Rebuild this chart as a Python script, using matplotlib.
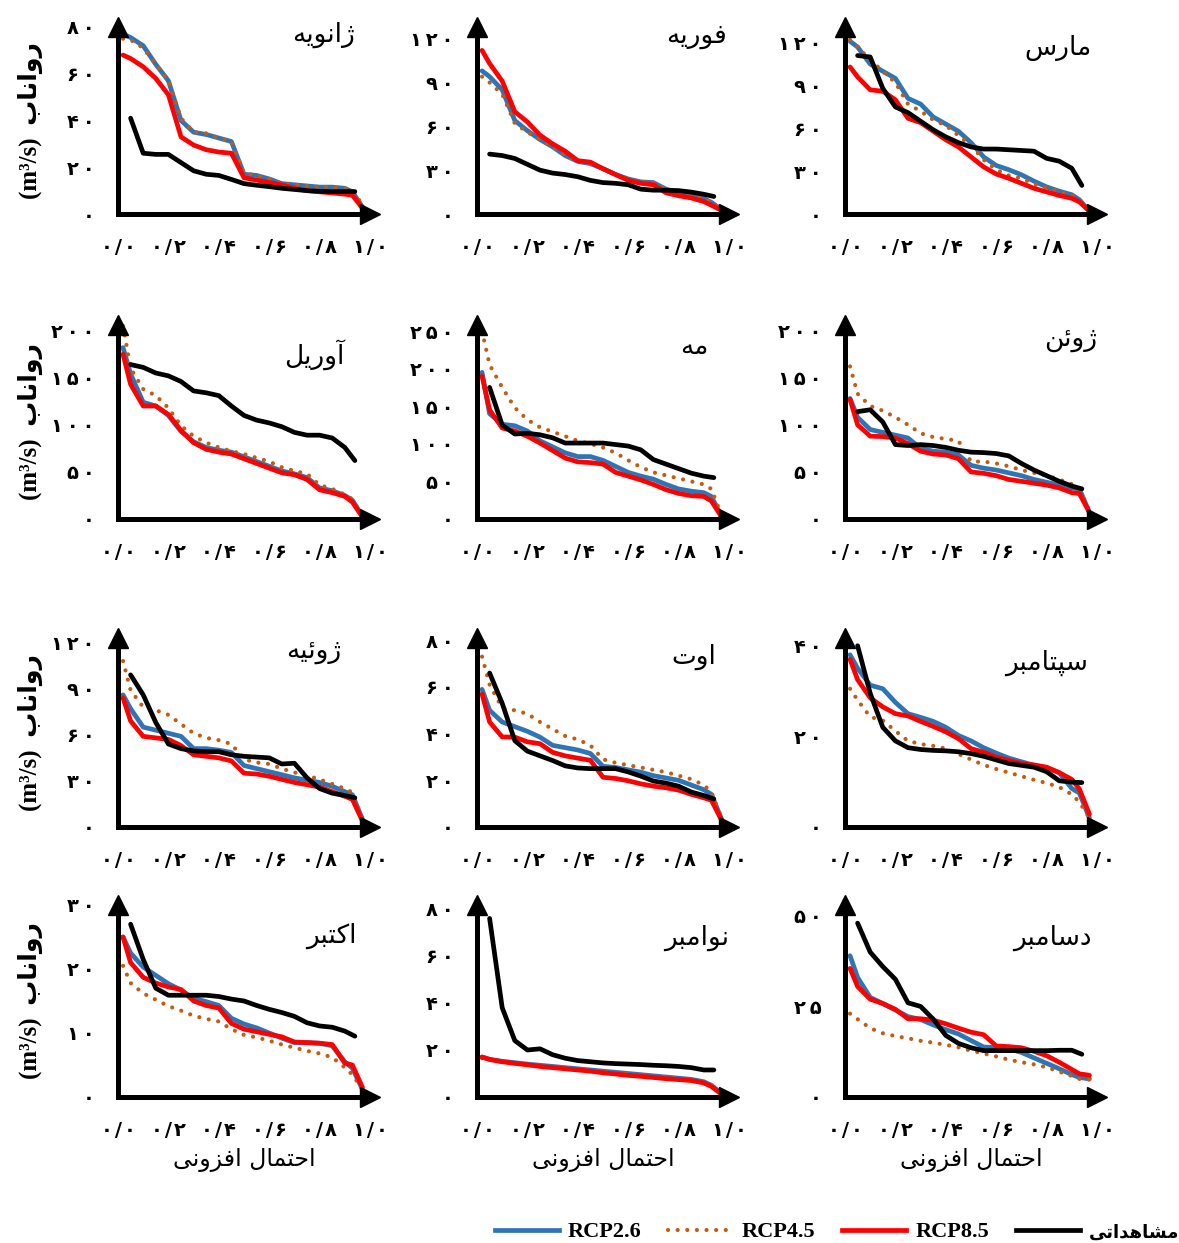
import matplotlib
matplotlib.use('Agg')
import matplotlib.pyplot as plt
from matplotlib.lines import Line2D

# --- 1. Data (flow duration curves) ---
# exceedance probability grid for the model runs and for the observed record
X_MODEL = [0.02, 0.05, 0.10, 0.15, 0.20, 0.25, 0.30, 0.35, 0.40, 0.45, 0.50,
           0.55, 0.60, 0.65, 0.70, 0.75, 0.80, 0.85, 0.90, 0.93, 0.97]
X_OBS = [0.05, 0.10, 0.15, 0.20, 0.25, 0.30, 0.35, 0.40, 0.45, 0.50,
         0.55, 0.60, 0.65, 0.70, 0.75, 0.80, 0.85, 0.90, 0.94]

MONTHS = ['ژانویه', 'فوریه', 'مارس', 'آوریل', 'مه', 'ژوئن',
          'ژوئیه', 'اوت', 'سپتامبر', 'اکتبر', 'نوامبر', 'دسامبر']

JAN_RCP26 = [77, 75.5, 72, 64, 57, 40, 35, 34, 32.5, 31, 17, 16.5, 15, 13, 12.5, 12, 11.5, 11.5, 11, 9.5, 3]
JAN_RCP45 = [75, 74.5, 71, 64, 57, 41, 35, 34.5, 32.5, 31, 17.5, 16.5, 15, 13, 12.5, 12, 11.5, 11.5, 11, 10, 4]
JAN_RCP85 = [68, 66.5, 63, 58, 51, 33, 29.5, 27.5, 26.5, 26, 15.5, 14.5, 13.5, 12.5, 11, 10, 9.5, 9, 8.5, 8, 2.5]
JAN_OBS = [41, 26, 25.5, 25.5, 22, 18.5, 17, 16.5, 14.8, 13, 12.3, 11.7, 11, 10.5, 10, 9.7, 9.6, 9.6, 9.6]

FEB_RCP26 = [98, 94, 85, 64, 57, 51, 46, 40, 36, 34.5, 31, 27, 24, 22, 21.5, 17, 14.5, 12.5, 10.5, 8, 3]
FEB_RCP45 = [94, 90, 82, 62, 56, 51, 46, 40, 36, 34.5, 31, 27, 24, 22, 21.5, 17, 14.5, 12.5, 10.5, 8, 3]
FEB_RCP85 = [112, 103, 91, 70, 63, 54, 48, 43, 36.5, 35.5, 31, 27, 23, 21, 20, 14.5, 12.5, 11, 8.5, 6, 2.5]
FEB_OBS = [41, 40, 38, 34, 30, 28, 27, 25.5, 23, 21.5, 21, 20, 17, 16.3, 16.3, 16, 15, 13.5, 12]

MAR_RCP26 = [121, 117, 105, 100, 95, 81, 77, 68, 63, 58, 50, 40, 34, 31, 27.5, 23, 19, 16, 13.5, 10, 2]
MAR_RCP45 = [122, 117, 108, 100, 92, 77, 72, 66, 62, 55, 48, 38, 31, 27, 25, 21, 18.5, 15.5, 13, 10, 2]
MAR_RCP85 = [103, 96, 87, 86, 80, 67, 64, 58, 52, 47, 40, 33, 28, 25, 21.5, 18, 15.5, 13, 11, 8.5, 2]
MAR_OBS = [111, 110, 88, 75, 71, 65, 59, 54, 50, 47, 45.5, 45.5, 45, 44.5, 44, 39, 37, 32, 20]

APR_RCP26 = [182, 154, 124, 120, 110, 93, 82, 76, 73, 71, 66, 61, 56, 51, 48, 44, 33, 30, 25, 20, 3]
APR_RCP45 = [205, 160, 138, 131, 118, 99, 88, 81, 76, 72, 69, 65, 61, 55, 51, 48, 36, 32, 26, 21, 3]
APR_RCP85 = [175, 143, 120, 120, 111, 94, 81, 74, 71, 69, 64, 59, 54, 49, 47, 42, 31, 28, 24, 18, 2]
APR_OBS = [164, 161, 155, 152, 146, 136, 134, 131, 120, 110, 105, 102, 98, 92, 89, 89, 86, 76, 62]

MAY_RCP26 = [195, 140, 126, 124, 117, 104, 96, 88, 83, 83, 78, 70, 62, 57, 53, 46, 40, 37, 35, 30, 4]
MAY_RCP45 = [250, 205, 175, 148, 132, 122, 116, 110, 104, 100, 95, 88, 78, 69, 62, 58, 54, 50, 46, 40, 5]
MAY_RCP85 = [190, 145, 121, 117, 110, 101, 91, 81, 76, 75, 73, 62, 57, 52, 46, 39, 34, 31, 30, 24, 3]
MAY_OBS = [175, 125, 113, 114, 112, 108, 101, 101, 101, 101, 99, 97, 92, 79, 73, 67, 61, 57, 55]

JUN_RCP26 = [128, 108, 95, 92, 89, 86, 75, 72, 71, 68, 57, 54, 52, 49, 46, 42, 39, 36, 33, 32, 7]
JUN_RCP45 = [162, 133, 120, 115, 108, 100, 91, 87, 85, 83, 61, 61, 59, 56, 52, 49, 46, 42, 37, 31, 9]
JUN_RCP85 = [127, 100, 88, 87.5, 86, 80, 72, 69, 68, 64, 50, 48.5, 46, 42, 40, 38, 36, 33, 28, 27, 7]
JUN_OBS = [114, 116, 103, 79, 78, 79, 78, 76, 73, 71, 70.5, 69.5, 67, 59, 52, 46, 40, 35, 32]

JUL_RCP26 = [86, 77, 65, 63, 61, 59, 51, 51, 50, 48.5, 40, 38, 36, 34, 32, 30.5, 29, 26.5, 23, 21, 5]
JUL_RCP45 = [108, 89, 78, 76, 73, 67, 61, 58, 56.5, 54, 44, 42, 41, 38, 35.5, 33.5, 31, 28, 25, 22.5, 5]
JUL_RCP85 = [84, 69, 59, 58, 57, 53, 47, 46, 45, 43, 35, 34.5, 33, 31, 29, 27.5, 26, 23, 20, 18, 4]
JUL_OBS = [99, 86, 68, 54, 51, 49.5, 49, 49, 47, 46, 45.5, 45, 41, 41.5, 32, 25, 22, 20.5, 19]

AUG_RCP26 = [59, 50, 45, 43, 41, 38.5, 35, 34, 33, 31.5, 26, 25.5, 24.5, 23.5, 22, 21, 20, 18, 16, 14, 3.5]
AUG_RCP45 = [73, 61, 51, 50, 48.5, 45, 42, 39, 37.5, 35, 29, 27.5, 26.5, 25.5, 24.5, 23.5, 22, 20.5, 18, 15, 4]
AUG_RCP85 = [57, 45, 38.6, 38.5, 36.5, 35.7, 32, 30.5, 29.5, 28.6, 21.3, 20.8, 19.8, 18.5, 17.5, 16.8, 15.8, 14, 12.5, 11.5, 3]
AUG_OBS = [66, 53, 37, 32.5, 30.5, 28.5, 26.2, 25.3, 25, 25, 25, 23.6, 21.8, 19.7, 18.8, 17.5, 15, 13.5, 12]

SEP_RCP26 = [38, 35, 31.3, 30.5, 27.5, 25, 24.2, 23.3, 22, 20.2, 19, 17.5, 16.3, 15.2, 14.4, 13.6, 13, 12, 8.5, 7.5, 2]
SEP_RCP45 = [30.5, 28, 24.3, 23.5, 21.2, 19, 18.3, 17.9, 17.3, 16.1, 14.9, 13.7, 12.8, 12, 11.2, 10.4, 9.7, 8.8, 7.2, 5.5, 2]
SEP_RCP85 = [37, 32.5, 28.5, 26.5, 25, 24.5, 23.3, 22.2, 21, 19.5, 17.3, 16.5, 15.4, 14.7, 14, 13.7, 13.2, 12, 10.5, 8.4, 2.8]
SEP_OBS = [40, 29.5, 22, 19, 17.5, 17.1, 16.9, 16.8, 16.6, 16.2, 15.6, 14.8, 14, 13.6, 13.2, 12.2, 10.2, 9.9, 9.8]

OCT_RCP26 = [25, 22.5, 20.3, 19, 17.7, 16.7, 15.4, 14.9, 14.3, 12.3, 11.4, 10.8, 10, 9.2, 8.5, 8.5, 8.4, 8, 5.5, 4.5, 1.2]
OCT_RCP45 = [20.5, 17.8, 16.2, 15.2, 14.2, 13.5, 12.7, 12.2, 11.8, 10.6, 9.7, 9.3, 8.8, 8.2, 7.7, 7.2, 6.8, 6.2, 4.6, 3.5, 1.2]
OCT_RCP85 = [25, 21, 18.7, 17.8, 17.2, 16.8, 15, 14.3, 13.9, 11.5, 10.6, 10.2, 9.8, 9.4, 8.6, 8.5, 8.4, 8.2, 5.3, 5, 1.5]
OCT_OBS = [27, 21.5, 17, 15.9, 15.9, 15.9, 15.9, 15.7, 15.3, 15, 14.3, 13.7, 13.2, 12.6, 11.6, 11.1, 10.9, 10.3, 9.5]

NOV_RCP26 = [17, 16, 15.2, 14.6, 14, 13.5, 13, 12.5, 12, 11.5, 11, 10.5, 10, 9.5, 9, 8.5, 8, 7.5, 6.5, 5, 1.5]
NOV_RCP45 = [16.5, 15.8, 15, 14.4, 13.8, 13.3, 12.8, 12.3, 11.8, 11.3, 10.8, 10.3, 9.8, 9.3, 8.8, 8.3, 7.8, 7.3, 6.3, 5, 1.5]
NOV_RCP85 = [17, 16, 15, 14.3, 13.7, 13, 12.5, 12, 11.5, 11, 10.3, 9.8, 9.2, 8.8, 8.3, 7.8, 7.4, 7, 6, 4.5, 1.2]
NOV_OBS = [76, 38, 24, 20, 20.5, 18, 16.5, 15.5, 15, 14.5, 14.2, 14, 13.8, 13.5, 13.3, 13, 12.5, 11.5, 11.5]

DEC_RCP26 = [39, 33, 27.5, 25.8, 24, 22.2, 21.4, 19.9, 18.6, 17.4, 15.6, 13.8, 13.6, 13.3, 12.3, 10.8, 9.3, 7.8, 6.2, 5.4, 5]
DEC_RCP45 = [23, 21.5, 19, 17.6, 16.8, 16.2, 15.5, 15, 14.4, 13.7, 12.8, 12, 11.2, 10.3, 9.6, 9, 8.2, 7, 5.8, 5, 4.8]
DEC_RCP85 = [35.5, 30.5, 27, 25.8, 24.2, 21.6, 21.6, 21.2, 20.2, 19, 17.9, 17.2, 14.1, 13.9, 13.6, 12.6, 11.4, 9.6, 7.6, 6.4, 6]
DEC_OBS = [48, 40, 36, 32.5, 26, 25, 21.5, 17, 14.8, 13.6, 12.8, 12.8, 12.8, 12.8, 12.8, 12.8, 12.9, 12.9, 11.8]

Y_TICKS = [[0, 20, 40, 60, 80], [0, 30, 60, 90, 120], [0, 30, 60, 90, 120],
           [0, 50, 100, 150, 200], [0, 50, 100, 150, 200, 250], [0, 50, 100, 150, 200],
           [0, 30, 60, 90, 120], [0, 20, 40, 60, 80], [0, 20, 40],
           [0, 10, 20, 30], [0, 20, 40, 60, 80], [0, 25, 50]]
X_TICKS = [0.0, 0.2, 0.4, 0.6, 0.8, 1.0]

PANELS = [
    (MONTHS[0], JAN_RCP26, JAN_RCP45, JAN_RCP85, JAN_OBS),
    (MONTHS[1], FEB_RCP26, FEB_RCP45, FEB_RCP85, FEB_OBS),
    (MONTHS[2], MAR_RCP26, MAR_RCP45, MAR_RCP85, MAR_OBS),
    (MONTHS[3], APR_RCP26, APR_RCP45, APR_RCP85, APR_OBS),
    (MONTHS[4], MAY_RCP26, MAY_RCP45, MAY_RCP85, MAY_OBS),
    (MONTHS[5], JUN_RCP26, JUN_RCP45, JUN_RCP85, JUN_OBS),
    (MONTHS[6], JUL_RCP26, JUL_RCP45, JUL_RCP85, JUL_OBS),
    (MONTHS[7], AUG_RCP26, AUG_RCP45, AUG_RCP85, AUG_OBS),
    (MONTHS[8], SEP_RCP26, SEP_RCP45, SEP_RCP85, SEP_OBS),
    (MONTHS[9], OCT_RCP26, OCT_RCP45, OCT_RCP85, OCT_OBS),
    (MONTHS[10], NOV_RCP26, NOV_RCP45, NOV_RCP85, NOV_OBS),
    (MONTHS[11], DEC_RCP26, DEC_RCP45, DEC_RCP85, DEC_OBS),
]

# --- 2. Layout (pixels) ---
W, H = 1179, 1243
COL_LEFT = [118, 477, 845]          # y-axis position of each column
AX_W = 252                          # y-axis to base of the x arrow
ROW_BOTTOM = [214, 519, 827, 1097]  # x-axis position of each row
ROW_TOP = [27, 325, 638, 905]       # base of the y arrow
Y_TOP = [79, 128, 131, 206, 258, 206, 123, 81, 41.7, 30, 81.7, 53]
TITLE_POS = [(0.94, 0.96), (0.99, 0.95), (0.98, 0.89), (0.90, 0.85), (0.92, 0.885), (1.0, 0.93),
             (0.885, 0.93), (0.95, 0.90), (0.965, 0.87), (0.945, 0.84), (1.0, 0.83), (0.98, 0.83)]

BLUE = '#2E75B6'
ORANGE = '#C55A11'
RED = '#FF0000'
LW = 3.4
DOTS = (0, (0.01, 2.3))

# --- 3. Persian text helpers (matplotlib has no Arabic shaping) ---
# isolated, final, initial, medial; None = letter does not join to the next one
FORMS = {
    'ا': ('\uFE8D', '\uFE8E', None, None),
    'آ': ('\uFE81', '\uFE82', None, None),
    'ب': ('\uFE8F', '\uFE90', '\uFE91', '\uFE92'),
    'پ': ('\uFB56', '\uFB57', '\uFB58', '\uFB59'),
    'ت': ('\uFE95', '\uFE96', '\uFE97', '\uFE98'),
    'ح': ('\uFEA1', '\uFEA2', '\uFEA3', '\uFEA4'),
    'د': ('\uFEA9', '\uFEAA', None, None),
    'ر': ('\uFEAD', '\uFEAE', None, None),
    'ز': ('\uFEAF', '\uFEB0', None, None),
    'ژ': ('\uFB8A', '\uFB8B', None, None),
    'س': ('\uFEB1', '\uFEB2', '\uFEB3', '\uFEB4'),
    'ش': ('\uFEB5', '\uFEB6', '\uFEB7', '\uFEB8'),
    'ف': ('\uFED1', '\uFED2', '\uFED3', '\uFED4'),
    'ک': ('\uFB8E', '\uFB8F', '\uFB90', '\uFB91'),
    'ل': ('\uFEDD', '\uFEDE', '\uFEDF', '\uFEE0'),
    'م': ('\uFEE1', '\uFEE2', '\uFEE3', '\uFEE4'),
    'ن': ('\uFEE5', '\uFEE6', '\uFEE7', '\uFEE8'),
    'ه': ('\uFEE9', '\uFEEA', '\uFEEB', '\uFEEC'),
    'و': ('\uFEED', '\uFEEE', None, None),
    'ی': ('\uFBFC', '\uFBFD', '\uFBFE', '\uFBFF'),
    'ئ': ('\uFE89', '\uFE8A', '\uFE8B', '\uFE8C'),
}


def fa(text):
    out = []
    for i, c in enumerate(text):
        if c not in FORMS:
            out.append(c)
            continue
        prev = text[i - 1] if i > 0 else None
        nxt = text[i + 1] if i + 1 < len(text) else None
        iso, fin, ini, med = FORMS[c]
        join_prev = prev in FORMS and FORMS[prev][2] is not None
        join_next = nxt in FORMS and ini is not None
        if join_prev and join_next:
            out.append(med)
        elif join_prev:
            out.append(fin)
        elif join_next:
            out.append(ini)
        else:
            out.append(iso)
    return ''.join(reversed(out))


DIGITS = str.maketrans('0123456789', '۰۱۲۳۴۵۶۷۸۹')

plt.rcParams['font.family'] = ['DejaVu Sans']
MIXED = ['Liberation Serif', 'DejaVu Sans']

# --- 4. Plot ---
fig = plt.figure(figsize=(W / 100, H / 100), dpi=100)

for i, (name, r26, r45, r85, obs) in enumerate(PANELS):
    row, col = divmod(i, 3)
    left, bottom, top = COL_LEFT[col], ROW_BOTTOM[row], ROW_TOP[row]
    ax = fig.add_axes([left / W, 1 - bottom / H, AX_W / W, (bottom - top) / H])

    ax.plot(X_MODEL, r26, color=BLUE, lw=LW, solid_joinstyle='round', solid_capstyle='round', clip_on=False)
    ax.plot(X_MODEL, r45, color=ORANGE, lw=3.0, linestyle=DOTS, dash_capstyle='round', clip_on=False)
    ax.plot(X_MODEL, r85, color=RED, lw=LW, solid_joinstyle='round', solid_capstyle='round', clip_on=False)
    ax.plot(X_OBS, obs, color='black', lw=LW, solid_joinstyle='round', solid_capstyle='round', clip_on=False)

    ax.set_xlim(0, 1.0)
    ax.set_ylim(0, Y_TOP[i])

    for s in ['top', 'right']:
        ax.spines[s].set_visible(False)
    for s in ['left', 'bottom']:
        ax.spines[s].set_linewidth(3.6)
    ax.plot([0], [1], marker='^', ms=15, color='black', transform=ax.transAxes, clip_on=False)
    ax.plot([1], [0], marker='>', ms=15, color='black', transform=ax.transAxes, clip_on=False)

    ax.set_xticks(X_TICKS)
    ax.set_xticklabels([f'{v:.1f}'.replace('.', '\u200a/\u200a').translate(DIGITS) for v in X_TICKS],
                       fontsize=14, fontweight='bold')
    ax.set_yticks(Y_TICKS[i])
    ax.set_yticklabels(['\u2009'.join(str(v).translate(DIGITS)) for v in Y_TICKS[i]],
                       fontsize=14, fontweight='bold')
    ax.tick_params(axis='x', length=0, pad=17)
    ax.tick_params(axis='y', length=0, pad=17)

    tx, ty = TITLE_POS[i]
    ax.text(tx, ty, fa(name), transform=ax.transAxes, ha='right', va='center', fontsize=19)

    if col == 0:
        yc = 1 - (bottom + top) / 2 / H
        fig.text(30 / W, yc, '(m³/s)  ' + fa('رواناب'), rotation=90, ha='center', va='center',
                 fontsize=18, fontweight='bold', family=MIXED)
    if row == 3:
        ax.set_xlabel(fa('احتمال افزونی'), fontsize=17, labelpad=6)

handles = [
    Line2D([], [], color=BLUE, lw=LW),
    Line2D([], [], color=ORANGE, lw=3.0, linestyle=DOTS, dash_capstyle='round'),
    Line2D([], [], color=RED, lw=LW),
    Line2D([], [], color='black', lw=LW),
]
labels = ['RCP2.6', 'RCP4.5', 'RCP8.5', fa('مشاهداتی')]
leg = fig.legend(handles, labels, loc='center right', bbox_to_anchor=(1.008, 1 - 1232 / H), ncol=4,
                 frameon=False, handlelength=2.9, handletextpad=0.4, columnspacing=1.2,
                 borderaxespad=0.0, prop={'family': MIXED, 'weight': 'bold', 'size': 16})
leg.get_texts()[3].set_fontsize(13)

fig.savefig('out.png', dpi=100)
